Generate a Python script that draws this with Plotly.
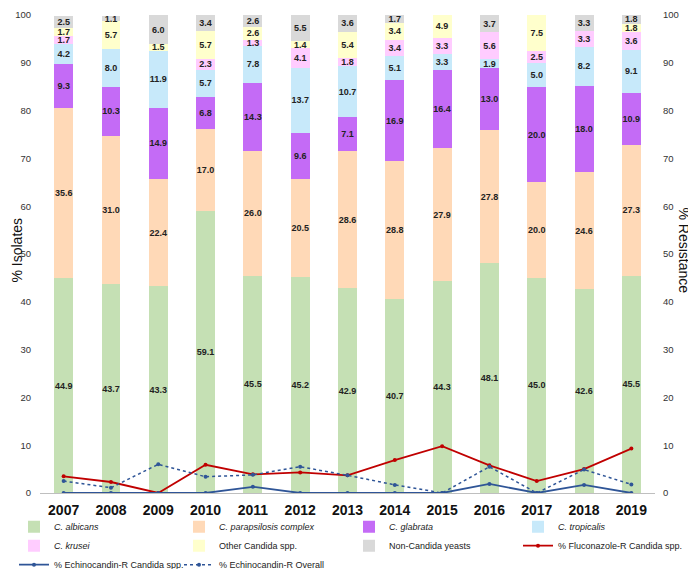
import plotly.graph_objects as go

years = ['2007', '2008', '2009', '2010', '2011', '2012', '2013',
         '2014', '2015', '2016', '2017', '2018', '2019']

# % isolates by species (stacked, bottom to top)
albicans = [44.9, 43.7, 43.3, 59.1, 45.5, 45.2, 42.9, 40.7, 44.3, 48.1, 45.0, 42.6, 45.5]
parapsilosis = [35.6, 31.0, 22.4, 17.0, 26.0, 20.5, 28.6, 28.8, 27.9, 27.8, 20.0, 24.6, 27.3]
glabrata = [9.3, 10.3, 14.9, 6.8, 14.3, 9.6, 7.1, 16.9, 16.4, 13.0, 20.0, 18.0, 10.9]
tropicalis = [4.2, 8.0, 11.9, 5.7, 7.8, 13.7, 10.7, 5.1, 3.3, 1.9, 5.0, 8.2, 9.1]
krusei = [1.7, 0, 0, 2.3, 1.3, 4.1, 1.8, 3.4, 3.3, 5.6, 2.5, 3.3, 3.6]
other_candida = [1.7, 5.7, 1.5, 5.7, 2.6, 1.4, 5.4, 3.4, 4.9, 0, 7.5, 0, 1.8]
non_candida = [2.5, 1.1, 6.0, 3.4, 2.6, 5.5, 3.6, 1.7, 0, 3.7, 0, 3.3, 1.8]

# % resistance (right axis)
fluconazole_r = [3.5, 2.3, 0, 5.9, 3.9, 4.3, 3.7, 6.9, 9.8, 5.8, 2.5, 5.0, 9.3]
echino_r_candida = [0, 0, 0, 0, 1.3, 0, 0, 0, 0, 1.9, 0, 1.7, 0]
echino_r_overall = [2.5, 1.1, 6.0, 3.4, 3.8, 5.5, 3.7, 1.7, 0, 5.5, 0, 4.9, 1.8]

FONT = 'Liberation Sans'

# name, values, colour, legend column
bar_series = [
    ('<i>C. albicans</i>', albicans, '#C5E0B4', 'legend'),
    ('<i>C. parapsilosis complex</i>', parapsilosis, '#FFD9B7', 'legend2'),
    ('<i>C. glabrata</i>', glabrata, '#C46BF6', 'legend3'),
    ('<i>C. tropicalis</i>', tropicalis, '#C7E9FA', 'legend4'),
    ('<i>C. krusei</i>', krusei, '#FFCCFF', 'legend'),
    ('Other Candida spp.', other_candida, '#FFFFCC', 'legend2'),
    ('Non-Candida yeasts', non_candida, '#D9D9D9', 'legend3'),
]

fig = go.Figure()
for name, vals, col, leg in bar_series:
    fig.add_trace(go.Bar(
        x=years, y=vals, name=name, legend=leg,
        marker=dict(color=col, line=dict(width=0)),
        text=['<b>%.1f</b>' % v if v > 0 else '' for v in vals],
        textposition='inside', insidetextanchor='middle', textangle=0,
        textfont=dict(size=9, color='#222222', family=FONT),
        cliponaxis=False,
    ))

fig.add_trace(go.Scatter(
    x=years, y=fluconazole_r, name='% Fluconazole-R Candida spp.',
    mode='lines+markers', yaxis='y2', legend='legend4',
    line=dict(color='#C00000', width=1.8), marker=dict(size=4, color='#C00000'),
))
fig.add_trace(go.Scatter(
    x=years, y=echino_r_candida, name='% Echinocandin-R Candida spp.',
    mode='lines+markers', yaxis='y2', legend='legend',
    line=dict(color='#2F5597', width=1.8), marker=dict(size=4, color='#2F5597'),
))
fig.add_trace(go.Scatter(
    x=years, y=echino_r_overall, name='% Echinocandin-R Overall',
    mode='lines+markers', yaxis='y2', legend='legend2',
    line=dict(color='#2F5597', width=1.5, dash='dot'), marker=dict(size=4, color='#2F5597'),
))

tickfont = dict(size=9.5, color='#333333', family=FONT)
ticks = list(range(0, 101, 10))
yrange = [0, 101.5]


def legend_col(xpx):
    return dict(
        orientation='v', xref='container', yref='container',
        x=xpx / 696, y=0.114, xanchor='left', yanchor='top',
        traceorder='normal', itemwidth=30, bgcolor='rgba(0,0,0,0)',
        font=dict(size=9, family=FONT, color='#222222'),
    )


fig.update_layout(
    width=696, height=569,
    barmode='stack', bargap=0.6,
    plot_bgcolor='white', paper_bgcolor='white',
    font=dict(family=FONT, color='#222222'),
    margin=dict(l=32, r=49, t=0, b=84, autoexpand=False),
    uniformtext=dict(mode='show', minsize=9),
    xaxis=dict(
        range=[-0.5, 12.5],
        showline=True, linecolor='#BFBFBF', linewidth=1, automargin=False,
        tickfont=dict(size=14, color='#111111', family=FONT),
        tickprefix='<b>', ticksuffix='</b>', ticklabelstandoff=4,
    ),
    yaxis=dict(
        range=yrange, tickvals=ticks, showgrid=False, zeroline=False,
        automargin=False,
        tickfont=tickfont, tickprefix='<b>', ticksuffix='</b>',
        ticklabelstandoff=8,
    ),
    yaxis2=dict(
        range=yrange, tickvals=ticks, showgrid=False, zeroline=False,
        overlaying='y', side='right', automargin=False,
        tickfont=tickfont, tickprefix='<b>', ticksuffix='</b>',
        ticklabelstandoff=7,
    ),
    legend=legend_col(6),
    legend2=legend_col(171),
    legend3=legend_col(341),
    legend4=legend_col(510),
    annotations=[
        dict(text='% Isolates', textangle=-90, showarrow=False,
             xref='paper', yref='paper', x=0, xshift=-24, y=0.5,
             xanchor='center', yanchor='middle',
             font=dict(size=14, color='#111111', family=FONT)),
        dict(text='% Resistance', textangle=90, showarrow=False,
             xref='paper', yref='paper', x=1, xshift=29, y=0.5,
             xanchor='center', yanchor='middle',
             font=dict(size=14, color='#111111', family=FONT)),
    ],
)

fig.write_html('out.html')
